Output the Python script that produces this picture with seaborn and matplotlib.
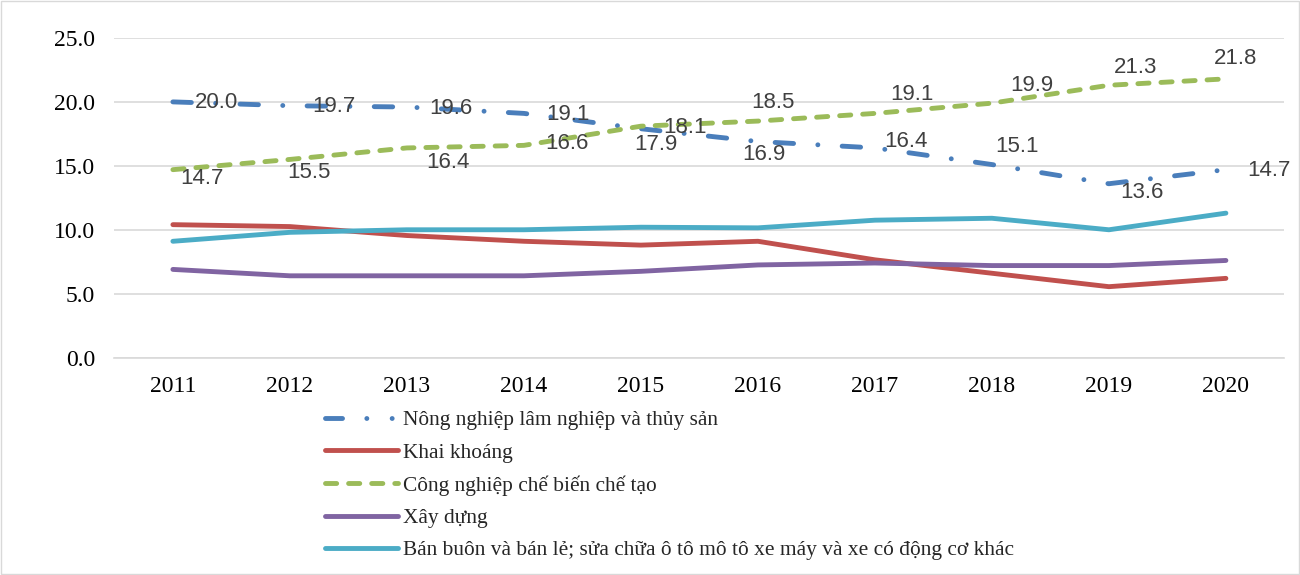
import pandas as pd
import matplotlib.pyplot as plt
import seaborn as sns
from matplotlib.patches import Rectangle

# Data
years = [2011, 2012, 2013, 2014, 2015, 2016, 2017, 2018, 2019, 2020]
nong_nghiep = [20.0, 19.7, 19.6, 19.1, 17.9, 16.9, 16.4, 15.1, 13.6, 14.7]
khai_khoang = [10.4, 10.25, 9.55, 9.1, 8.8, 9.1, 7.65, 6.6, 5.55, 6.2]
cong_nghiep = [14.7, 15.5, 16.4, 16.6, 18.1, 18.5, 19.1, 19.9, 21.3, 21.8]
xay_dung = [6.9, 6.4, 6.4, 6.4, 6.75, 7.25, 7.4, 7.2, 7.2, 7.6]
ban_buon = [9.1, 9.8, 10.0, 10.0, 10.2, 10.15, 10.75, 10.9, 10.0, 11.3]
y_ticks = [0, 5, 10, 15, 20, 25]

names = [
    "Nông nghiệp lâm nghiệp và thủy sản",
    "Khai khoáng",
    "Công nghiệp chế biến chế tạo",
    "Xây dựng",
    "Bán buôn và bán lẻ; sửa chữa ô tô mô tô xe máy và xe có động cơ khác",
]
series = [nong_nghiep, khai_khoang, cong_nghiep, xay_dung, ban_buon]
colors = ["#4a7ebb", "#c0504d", "#9bbb59", "#8064a2", "#4bacc6"]
dashes = [(3.8, 5.0, 0.01, 5.0), None, (2.3, 2.45), None, None]

sns.set_theme(style="white")
plt.rcParams["font.family"] = ["Liberation Serif", "DejaVu Serif"]

fig = plt.figure(figsize=(13, 5.75), dpi=100)
ax = fig.add_axes([0.088, 0.378, 0.90, 0.556])

for name, vals, col, dsh in zip(names, series, colors, dashes):
    df = pd.DataFrame({"year": years, "value": vals})
    sns.lineplot(data=df, x="year", y="value", ax=ax, color=col, linewidth=3.5,
                 label=name, solid_capstyle="round", dash_capstyle="round",
                 solid_joinstyle="round")
    line = ax.get_lines()[-1]
    if dsh is not None:
        line.set_dashes(dsh)

# Data labels (Excel-style, hand-placed offsets in pixels: right, down)
label_font = dict(fontsize=16, color="#404040",
                  family=["Liberation Sans", "DejaVu Sans"])
off_blue = [(44, 2), (44, 2), (44, 2), (44, 2), (15, 17),
            (6, 14), (31, -5), (25, -17), (33, 10), (43, 2)]
off_green = [(29, 10), (19, 14), (41, 16), (43, -1), (44, 2),
             (15, -18), (37, -18), (40, -17), (27, -17), (10, -19)]
for vals, offs in [(nong_nghiep, off_blue), (cong_nghiep, off_green)]:
    for x, v, (dx, dy) in zip(years, vals, offs):
        ax.annotate(f"{v:.1f}", (x, v), xytext=(dx, -dy + 1), textcoords="offset pixels",
                    ha="center", va="center", **label_font)

ax.set_xlim(2010.5, 2020.5)
ax.set_ylim(0, 25)
ax.set_yticks(y_ticks)
ax.set_yticklabels([f"{t:.1f}" for t in y_ticks])
ax.set_xticks(years)
ax.tick_params(axis="both", labelsize=17, length=0, colors="black")
ax.tick_params(axis="x", pad=13)
ax.tick_params(axis="y", pad=14)
ax.yaxis.grid(True, color="#d9d9d9", linewidth=1.2)
ax.set_xlabel("")
ax.set_ylabel("")
for s in ["top", "right", "left"]:
    ax.spines[s].set_visible(False)
ax.spines["bottom"].set_color("#d9d9d9")
ax.spines["bottom"].set_linewidth(1.2)

leg = ax.legend(loc="upper left", bbox_to_anchor=(0.18, -0.165), ncol=1, frameon=False,
                fontsize=15.4, handlelength=3.4, handletextpad=0.25, labelspacing=0.58,
                borderaxespad=0, borderpad=0)
# legend sample of the first series shows dash-dot-dot
leg.get_lines()[0].set_dashes((3.5, 5.0, 0.01, 5.2, 0.01, 5.2))

fig.patches.append(Rectangle((0.001, 0.002), 0.998, 0.996, transform=fig.transFigure,
                             fill=False, edgecolor="#d9d9d9", linewidth=1))

fig.savefig("out.png", dpi=100)
